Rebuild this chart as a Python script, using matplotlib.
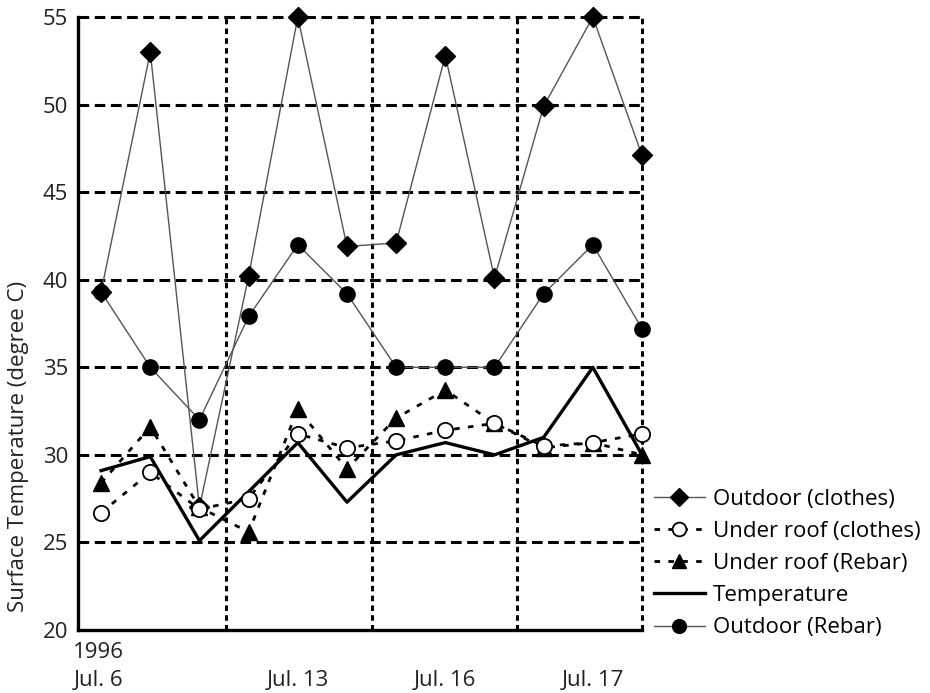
import numpy as np
import matplotlib
matplotlib.use("Agg")
import matplotlib.pyplot as plt

plt.rcParams['font.family'] = ['Open Sans', 'DejaVu Sans']

# 3 readings per day, 4 days
idx = np.arange(12)
day_ticks = [-0.05, 4, 7, 10]
day_labels = ["1996\nJul. 6", "\nJul. 13", "\nJul. 16", "\nJul. 17"]
day_bounds = [2.55, 5.5, 8.45, 11]
y_ticks = [20, 25, 30, 35, 40, 45, 50, 55]

outdoor_clothes = [39.3, 53.0, 27.0, 40.2, 55.0, 41.9, 42.1, 52.8, 40.1, 49.9, 55.0, 47.1]
roof_clothes = [26.7, 29.0, 26.9, 27.5, 31.2, 30.4, 30.8, 31.4, 31.8, 30.5, 30.7, 31.2]
roof_rebar = [28.4, 31.6, 27.0, 25.6, 32.6, 29.2, 32.1, 33.7, 31.8, 30.4, 30.7, 30.0]
temperature = [29.1, 29.9, 25.1, 27.9, 30.7, 27.3, 30.0, 30.7, 30.0, 31.0, 35.0, 30.0]
outdoor_rebar = [39.3, 35.0, 32.0, 37.9, 42.0, 39.2, 35.0, 35.0, 35.0, 39.2, 42.0, 37.2]

fig = plt.figure(figsize=(9.3, 6.93), dpi=100)
ax = fig.add_axes([78 / 930, 1 - 630 / 693, (642 - 78) / 930, (630 - 17) / 693])

# grid (dashed, drawn under the data)
for v in y_ticks[1:]:
    ax.axhline(v, color='black', lw=2.2, ls=(0, (3.5, 1.8)), clip_on=False, zorder=1)
for v in day_bounds:
    ax.axvline(v, color='black', lw=2.2, ls=(0, (1.8, 1.4)), clip_on=False, zorder=1)

ax.plot(idx, outdoor_rebar, color='#555555', lw=1.0, marker='o', ms=11,
        mfc='black', mec='black', label='Outdoor (Rebar)', clip_on=False, zorder=3)
ax.plot(idx, outdoor_clothes, color='#555555', lw=1.0, marker='D', ms=10.5,
        mfc='black', mec='black', label='Outdoor (clothes)', clip_on=False, zorder=3)
ax.plot(idx, temperature, color='black', lw=2.4, label='Temperature',
        clip_on=False, zorder=4)
ax.plot(idx, roof_rebar, color='black', lw=2.0, ls=(0, (2, 3)), marker='^', ms=11,
        mfc='black', mec='black', label='Under roof (Rebar)', clip_on=False, zorder=5)
ax.plot(idx, roof_clothes, color='black', lw=2.0, ls=(0, (2, 3)), marker='o', ms=11,
        mfc='white', mec='black', mew=1.3, label='Under roof (clothes)', clip_on=False, zorder=5)

ax.set_xlim(-0.47, 11.0)
ax.set_ylim(20, 55)
ax.set_yticks(y_ticks)
ax.set_xticks(day_ticks)
ax.set_xticklabels(day_labels, linespacing=1.4)
ax.tick_params(axis='both', which='both', length=0, labelsize=16, colors='#222222')
ax.tick_params(axis='x', pad=9)
ax.tick_params(axis='y', pad=7)

for s in ['top', 'right']:
    ax.spines[s].set_visible(False)
for s in ['left', 'bottom']:
    ax.spines[s].set_linewidth(2.4)
    ax.spines[s].set_zorder(6)

fig.text(19 / 930, 1 - 446 / 693, 'Surface Temperature (degree C)', rotation=90,
         ha='center', va='center', fontsize=16, color='#222222')

handles, labels = ax.get_legend_handles_labels()
order = ['Outdoor (clothes)', 'Under roof (clothes)', 'Under roof (Rebar)',
         'Temperature', 'Outdoor (Rebar)']
hmap = dict(zip(labels, handles))
fig.legend([hmap[k] for k in order], order, loc='upper left',
           bbox_to_anchor=(645 / 930, 1 - 480 / 693), frameon=False,
           fontsize=16, handlelength=2.3, handletextpad=0.35, labelspacing=0.5,
           borderaxespad=0, markerscale=0.9)

fig.savefig('out.png', dpi=100)
